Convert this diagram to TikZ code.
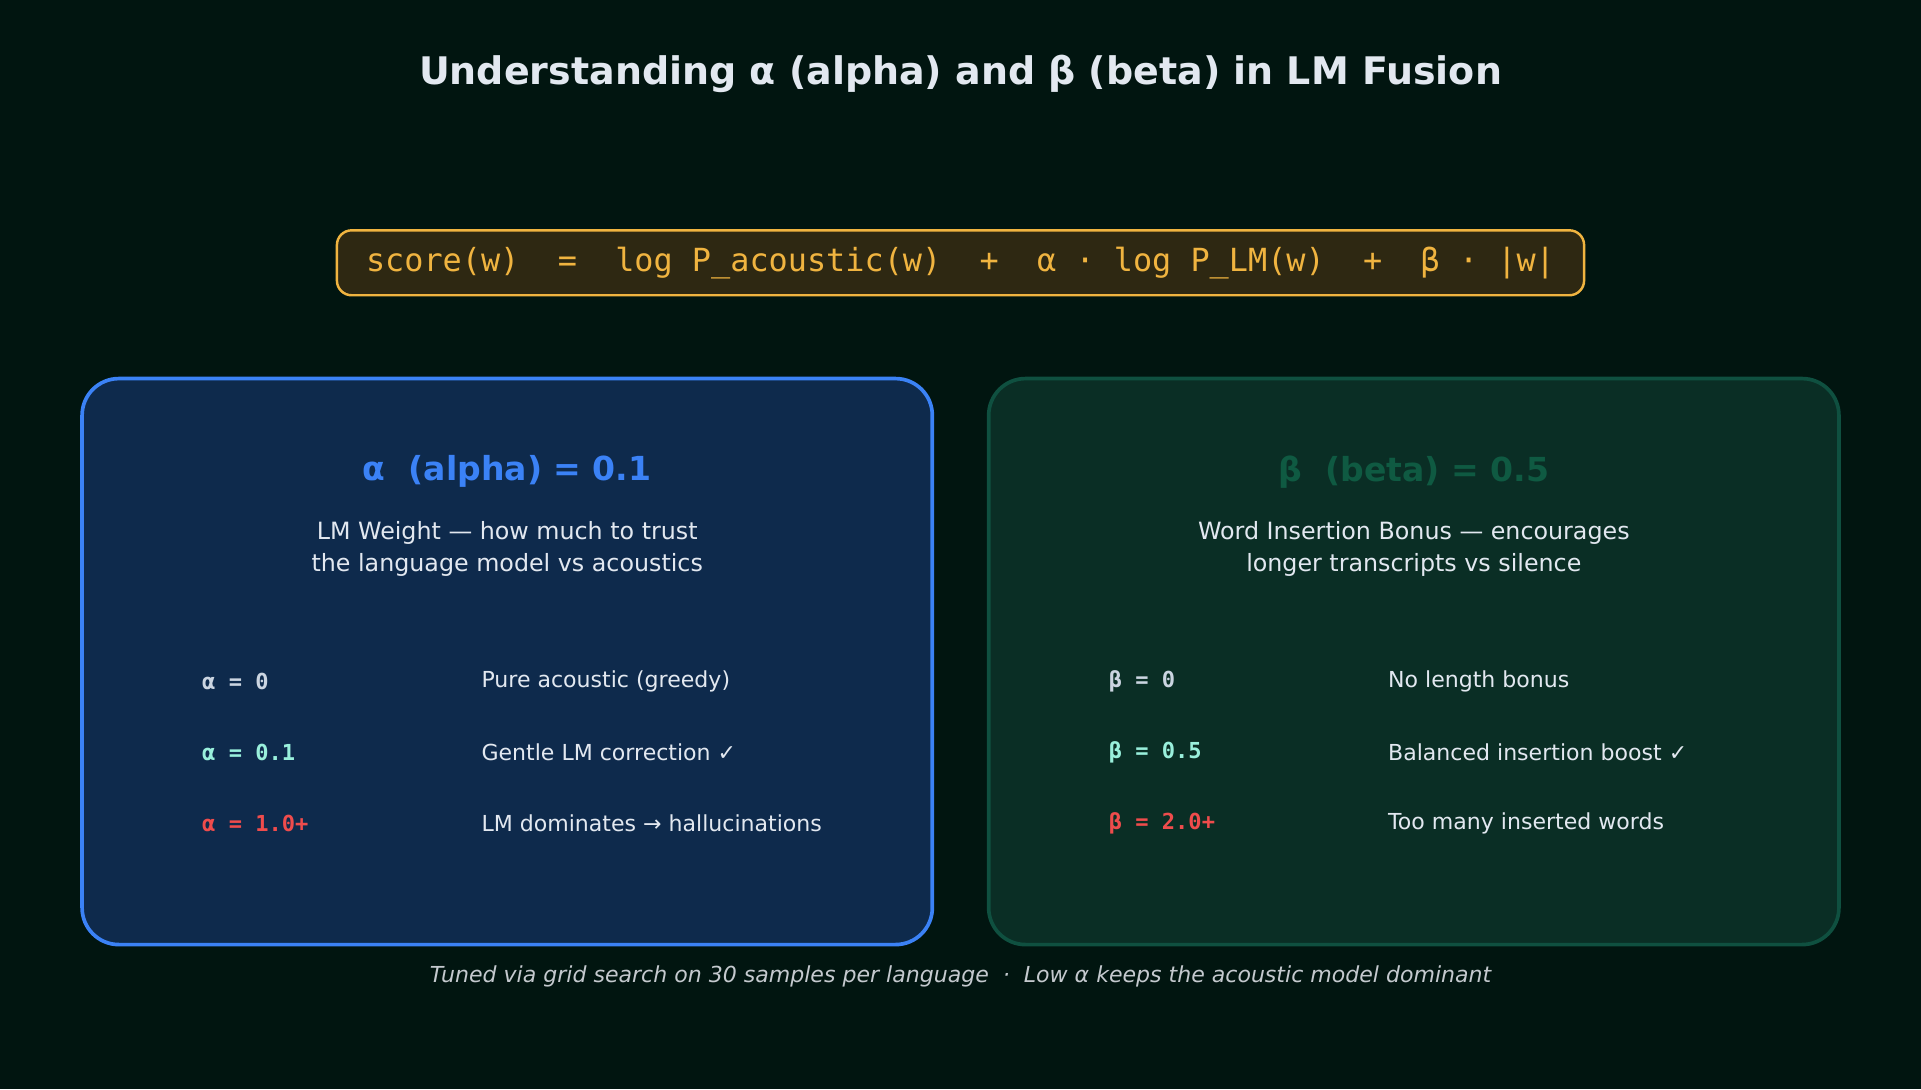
\documentclass[tikz,border=0pt]{standalone}
\usepackage{fontspec}
\setmainfont{DejaVu Sans}
\setmonofont{DejaVu Sans Mono}
\definecolor{bgcol}{HTML}{011510}
\definecolor{titlecol}{HTML}{E2E8F0}
\definecolor{formfill}{HTML}{2E2812}
\definecolor{formline}{HTML}{F0B440}
\definecolor{alphafill}{HTML}{0E2A4C}
\definecolor{alphaline}{HTML}{3B82F6}
\definecolor{betafill}{HTML}{0A2E25}
\definecolor{betaline}{HTML}{0F5040}
\definecolor{betahead}{HTML}{0F5A42}
\definecolor{graylab}{HTML}{CBD5E1}
\definecolor{mintlab}{HTML}{99F0DC}
\definecolor{redlab}{HTML}{EF4C4C}
\definecolor{footcol}{HTML}{C4C9CE}
\tikzset{
  panel/.style={rounded corners=15pt, line width=1.5pt},
  heading/.style={font=\fontsize{13.5}{16}\selectfont\bfseries},
  subtext/.style={text=titlecol, align=center, font=\fontsize{9.7}{13}\selectfont},
  rowlab/.style={anchor=west, font=\ttfamily\bfseries\fontsize{9}{11}\selectfont},
  rowtxt/.style={anchor=west, text=titlecol, font=\fontsize{9}{11}\selectfont}
}
\begin{document}
\begin{tikzpicture}[x=0.5pt,y=-0.5pt]
\fill[bgcol] (0,0) rectangle (1568,889);
\useasboundingbox (0,0) rectangle (1568,889);

% title
\node[text=titlecol, font=\fontsize{15.5}{18}\selectfont\bfseries] (title) at (784,60)
  {Understanding α (alpha) and β (beta) in LM Fusion};

% formula
\draw[formline, fill=formfill, rounded corners=6pt, line width=1pt] (275,188) rectangle (1293,241);
\node[text=formline, font=\ttfamily\fontsize{13}{15}\selectfont] (formula) at (784,214.5)
  {score(w)\ \ =\ \ log P\_acoustic(w)\ \ +\ \ α · log P\_LM(w)\ \ +\ \ β · |w|};

% alpha panel
\draw[panel, alphaline, fill=alphafill] (67,309) rectangle (761,771);
\node[heading, text=alphaline] (ahead) at (414,385) {α\ \ (alpha) = 0.1};
\node[subtext] (asub) at (414,448) {LM Weight — how much to trust\\the language model vs acoustics};
\node[rowlab, text=graylab] (a1) at (158,556) {α = 0};
\node[rowlab, text=mintlab] (a2) at (158,614) {α = 0.1};
\node[rowlab, text=redlab] (a3) at (158,672) {α = 1.0+};
\node[rowtxt] (at1) at (386,556) {Pure acoustic (greedy)};
\node[rowtxt] (at2) at (386,614) {Gentle LM correction ✓};
\node[rowtxt] (at3) at (386,672) {LM dominates → hallucinations};

% beta panel
\draw[panel, betaline, fill=betafill] (807,309) rectangle (1501,771);
\node[heading, text=betahead] (bhead) at (1154,385) {β\ \ (beta) = 0.5};
\node[subtext] (bsub) at (1154,448) {Word Insertion Bonus — encourages\\longer transcripts vs silence};
\node[rowlab, text=graylab] (b1) at (898,556) {β = 0};
\node[rowlab, text=mintlab] (b2) at (898,614) {β = 0.5};
\node[rowlab, text=redlab] (b3) at (898,672) {β = 2.0+};
\node[rowtxt] (bt1) at (1126,556) {No length bonus};
\node[rowtxt] (bt2) at (1126,614) {Balanced insertion boost ✓};
\node[rowtxt] (bt3) at (1126,672) {Too many inserted words};

% footer
\node[text=footcol, font=\itshape\fontsize{9}{11}\selectfont] (foot) at (784,797)
  {Tuned via grid search on 30 samples per language\ \ ·\ \ Low α keeps the acoustic model dominant};
\end{tikzpicture}
\end{document}
